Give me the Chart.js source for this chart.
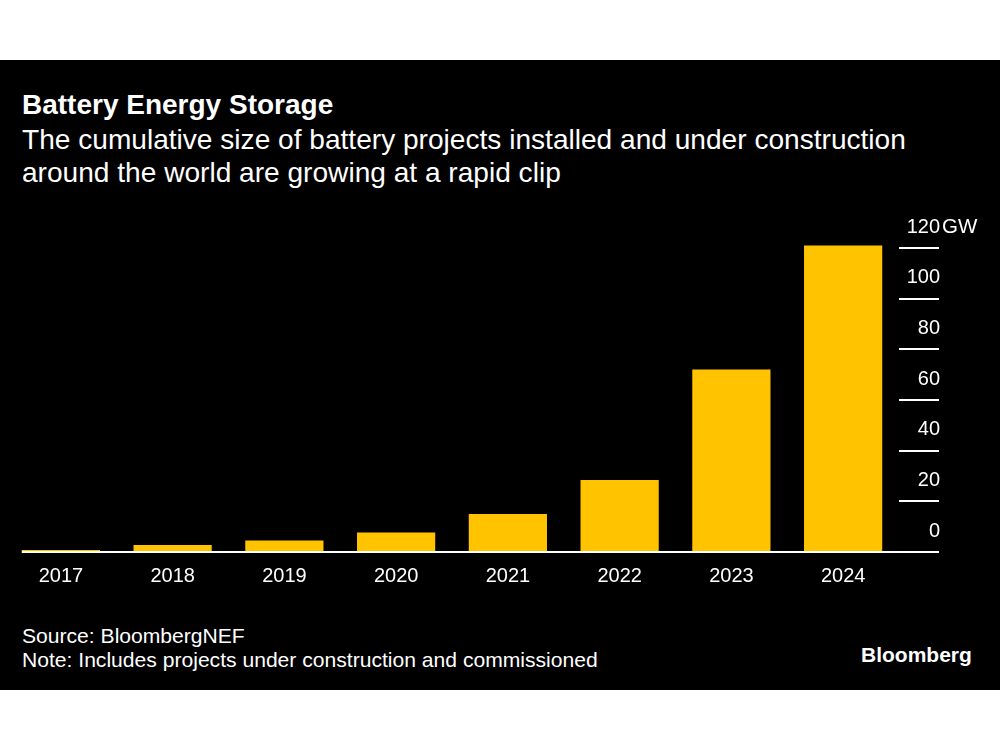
<!DOCTYPE html>
<html>
<head>
<meta charset="utf-8">
<script src="https://cdn.jsdelivr.net/npm/chart.js@4"></script>
<style>
  html, body { margin: 0; padding: 0; background: #fff; }
  body { width: 1000px; height: 750px; position: relative; overflow: hidden; font-family: "Liberation Sans", Arial, sans-serif; }
  #panel { position: absolute; left: 0; top: 60px; width: 1000px; height: 630px; background: #000; }
  .t { position: absolute; color: #fff; white-space: nowrap; }
  #title { left: 22px; top: 89px; font-size: 28px; font-weight: bold; line-height: 32px; }
  #sub { left: 22px; top: 123px; font-size: 28.1px; line-height: 33px; }
  #src { left: 22px; top: 624px; font-size: 21.1px; line-height: 24px; }
  #logo { left: 861px; top: 642px; font-size: 21px; font-weight: bold; line-height: 26px; }
  #wrap { position: absolute; left: 0; top: 200px; width: 1000px; height: 400px; }
</style>
</head>
<body>
<div id="panel"></div>
<div class="t" id="title">Battery Energy Storage</div>
<div class="t" id="sub">The cumulative size of battery projects installed and under construction<br>around the world are growing at a rapid clip</div>
<div id="wrap"><canvas id="c" width="1000" height="400"></canvas></div>
<div class="t" id="src">Source: BloombergNEF<br>Note: Includes projects under construction and commissioned</div>
<div class="t" id="logo">Bloomberg</div>
<script>
const years = ['2017', '2018', '2019', '2020', '2021', '2022', '2023', '2024'];
const capacityGW = [0.8, 2.8, 4.5, 7.7, 15, 28.4, 72, 121];
const yTicks = [0, 20, 40, 60, 80, 100, 120];
const unit = 'GW';

const TICK_LEN = 40;

const extras = {
  id: 'extras',
  afterDraw(chart) {
    const ctx = chart.ctx;
    const y = chart.scales.y;
    const meta = chart.getDatasetMeta(0);
    const first = meta.data[0];
    const x0 = first.x - first.width / 2;
    const zero = y.getPixelForValue(0);
    ctx.save();
    ctx.strokeStyle = '#fff';
    ctx.lineWidth = 2;
    ctx.beginPath();
    ctx.moveTo(x0, zero);
    ctx.lineTo(y.left + TICK_LEN, zero);
    ctx.stroke();
    ctx.fillStyle = '#fff';
    ctx.font = '20.5px "Liberation Sans", Arial, sans-serif';
    ctx.textAlign = 'left';
    ctx.textBaseline = 'middle';
    const top = yTicks[yTicks.length - 1];
    ctx.fillText(unit, y.left + TICK_LEN + 3, y.getPixelForValue(top) - 21);
    ctx.restore();
  }
};

new Chart(document.getElementById('c'), {
  type: 'bar',
  data: {
    labels: years,
    datasets: [{
      data: capacityGW,
      backgroundColor: '#FFC300',
      borderWidth: 0,
      barPercentage: 0.7,
      categoryPercentage: 1.0
    }]
  },
  options: {
    responsive: false,
    animation: false,
    events: [],
    layout: { padding: { left: 5, right: 60, top: 35.33, bottom: 0 } },
    plugins: { legend: { display: false }, tooltip: { enabled: false } },
    scales: {
      x: {
        grid: { display: false, drawTicks: false },
        border: { display: false },
        ticks: { color: '#fff', font: { size: 20, family: '"Liberation Sans", Arial, sans-serif' }, padding: 12 },
        afterFit(s) { s.height = 48; }
      },
      y: {
        position: 'right',
        min: 0,
        max: 125,
        afterBuildTicks(s) { s.ticks = yTicks.map(v => ({ value: v })); },
        afterFit(s) { s.width = TICK_LEN + 1; },
        grid: { drawOnChartArea: false, drawTicks: true, tickLength: TICK_LEN, color: '#fff', lineWidth: 2 },
        border: { display: false },
        ticks: {
          color: '#fff',
          font: { size: 20, family: '"Liberation Sans", Arial, sans-serif' },
          crossAlign: 'far',
          padding: 0,
          labelOffset: -21,
          callback: v => String(v)
        }
      }
    }
  },
  plugins: [extras]
});
</script>
</body>
</html>
